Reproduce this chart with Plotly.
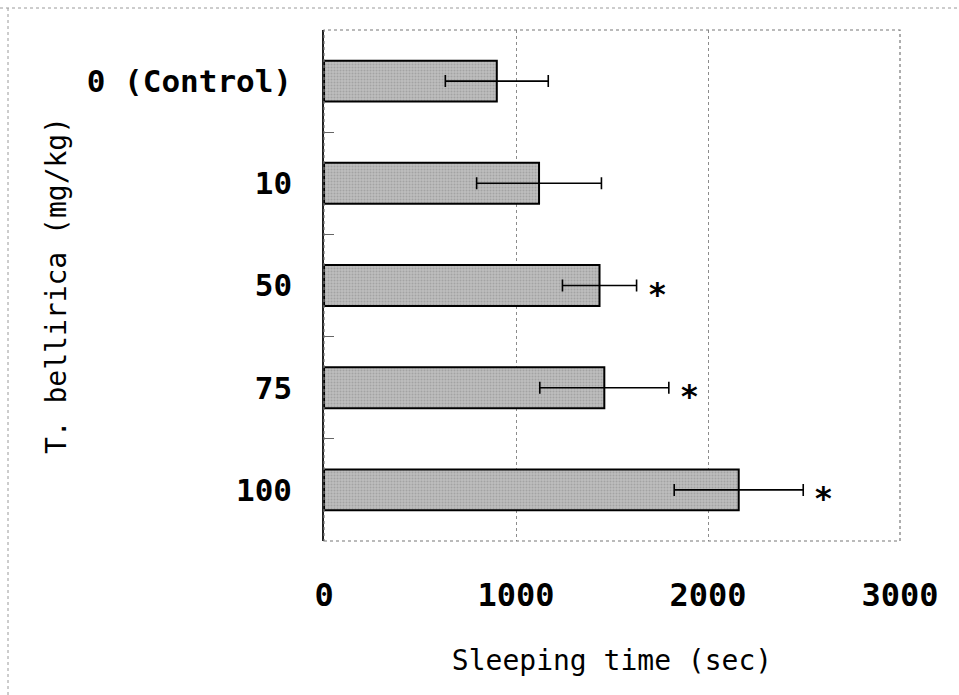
import plotly.graph_objects as go

# Sleeping time by dose of T. bellirica extract
doses = ["0 (Control)", "10", "50", "75", "100"]
sleep_mean = [900, 1120, 1435, 1460, 2160]
sleep_sd = [268, 325, 193, 336, 336]
significant = [False, False, True, True, True]
x_ticks = [0, 1000, 2000, 3000]

W, H = 959, 695
ML, MR, MT, MB = 324, 59, 30, 154
FONT = "DejaVu Sans Mono"

rows = list(range(len(doses)))

fig = go.Figure()
fig.add_trace(go.Bar(
    x=sleep_mean, y=rows, orientation="h",
    width=0.4,
    marker=dict(color="#b2b2b2", line=dict(color="black", width=2),
                pattern=dict(shape=".", fgcolor="#8a8a8a", bgcolor="#bdbdbd",
                             size=3, solidity=0.35)),
    error_x=dict(type="data", array=sleep_sd, symmetric=True,
                 color="black", thickness=1.6, width=6),
    showlegend=False,
))

# significance markers just past the upper error bar
for r, m, s, sig in zip(rows, sleep_mean, sleep_sd, significant):
    if sig:
        fig.add_annotation(x=m + s, y=r, text="<b>*</b>", showarrow=False,
                           xanchor="left", xshift=10, yshift=-8,
                           font=dict(family="DejaVu Sans", size=32, color="black"))

pw = W - ML - MR
ph = H - MT - MB
# plot frame (light scanned-looking border)
fig.add_shape(type="rect", xref="paper", yref="paper", x0=0, x1=1, y0=0, y1=1,
              line=dict(color="#777777", width=1.2, dash="dot"), layer="above")
# outer figure frame lines
fig.add_shape(type="line", xref="paper", yref="paper",
              x0=(0 - ML) / pw, x1=(W - ML) / pw,
              y0=(H - MB - 8) / ph, y1=(H - MB - 8) / ph,
              line=dict(color="#9a9a9a", width=1, dash="dot"))
fig.add_shape(type="line", xref="paper", yref="paper",
              x0=(8 - ML) / pw, x1=(8 - ML) / pw,
              y0=(H - MB - 8) / ph, y1=-MB / ph,
              line=dict(color="#9a9a9a", width=1, dash="dot"))

fig.update_layout(
    width=W, height=H,
    margin=dict(l=ML, r=MR, t=MT, b=MB),
    paper_bgcolor="white", plot_bgcolor="white",
    font=dict(family=FONT, color="black"),
    xaxis=dict(
        range=[0, 3000], tickvals=x_ticks, ticktext=[str(v) for v in x_ticks],
        showgrid=True, gridcolor="#8c8c8c", gridwidth=1, griddash="dot",
        zeroline=False, showline=False, ticks="",
        tickfont=dict(family=FONT, size=32, color="black", weight="bold"),
        ticklabelstandoff=32,
        title=dict(text="Sleeping time (sec)", standoff=37,
                   font=dict(family=FONT, size=28, color="black")),
    ),
    yaxis=dict(
        range=[len(doses) - 0.5, -0.5],
        tickvals=rows, ticktext=doses, ticks="",
        minor=dict(tickvals=[r + 0.5 for r in rows[:-1]], ticks="inside",
                   ticklen=10, tickcolor="#666666", tickwidth=1, showgrid=False),
        showline=True, linecolor="#222222", linewidth=1.5,
        showgrid=False, zeroline=False,
        tickfont=dict(family=FONT, size=31, color="black", weight="bold"),
        ticklabelstandoff=24,
        title=dict(text="T. bellirica (mg/kg)", standoff=12,
                   font=dict(family=FONT, size=28, color="black")),
    ),
)

fig.write_html("out.html")
